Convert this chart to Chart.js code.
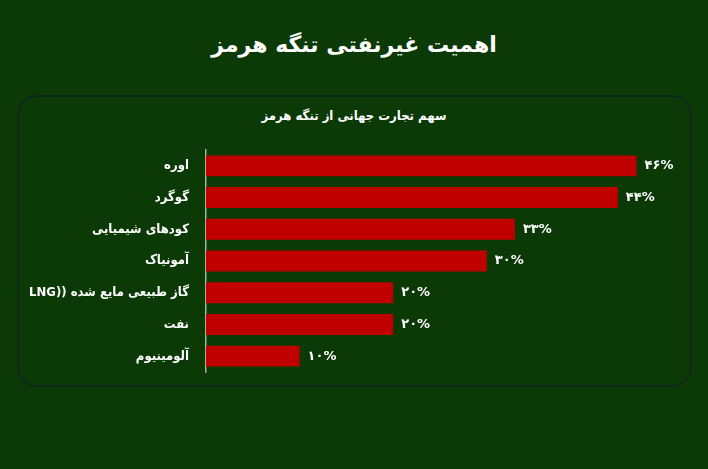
<!DOCTYPE html>
<html lang="fa">
<head>
<meta charset="utf-8">
<script src="https://cdn.jsdelivr.net/npm/chart.js@4"></script>
<style>
  html, body { margin: 0; padding: 0; }
  body { width: 708px; height: 469px; background: #0b3a07; position: relative; overflow: hidden;
         font-family: 'DejaVu Sans', 'Noto Sans', sans-serif; }
  .title { position: absolute; left: 0; top: 32px; width: 708px; text-align: center; color: #fff;
           font-weight: bold; font-size: 22px; direction: rtl; }
  .card { position: absolute; left: 17px; top: 95px; width: 671px; height: 288px;
          border: 2px solid #0a2b1c; border-radius: 20px; }
  .subtitle { position: absolute; left: 0; top: 108px; width: 708px; text-align: center; color: #fff;
              font-weight: bold; font-size: 13px; direction: rtl; font-family: 'DejaVu Sans Condensed', sans-serif; }
  #chart { position: absolute; left: 0; top: 0; }
</style>
</head>
<body>
<div class="title">اهمیت غیرنفتی تنگه هرمز</div>
<div class="card"></div>
<div class="subtitle">سهم تجارت جهانی از تنگه هرمز</div>
<canvas id="chart" dir="rtl" width="708" height="469"></canvas>
<script>
const categories = ['اوره', 'گوگرد', 'کودهای شیمیایی', 'آمونیاک', 'گاز طبیعی مایع شده ((LNG', 'نفت', 'آلومینیوم'];
const shares = [46, 44, 33, 30, 20, 20, 10];

const faDigits = '۰۱۲۳۴۵۶۷۸۹';
const toFa = (n) => String(n).replace(/\d/g, d => faDigits[d]);

// value labels at the end of each bar, drawn left-to-right so % stays after the digits
const valueLabels = {
  id: 'valueLabels',
  afterDatasetsDraw(chart){
    const ctx = chart.ctx;
    const meta = chart.getDatasetMeta(0);
    ctx.save();
    ctx.direction = 'ltr';
    ctx.font = 'bold 13px "DejaVu Sans", sans-serif';
    ctx.fillStyle = '#ffffff';
    ctx.textAlign = 'left';
    ctx.textBaseline = 'middle';
    meta.data.forEach((bar, i) => {
      ctx.fillText(toFa(shares[i]) + '%', bar.x + 8, bar.y);
    });
    ctx.restore();
  }
};

new Chart(document.getElementById('chart'), {
  type: 'bar',
  data: {
    labels: categories,
    datasets: [{
      data: shares,
      backgroundColor: '#c00000',
      borderWidth: 0,
      barPercentage: 0.66,
      categoryPercentage: 1
    }]
  },
  options: {
    indexAxis: 'y',
    responsive: false,
    animation: false,
    layout: { padding: { left: 0, top: 150, right: 34, bottom: 97 } },
    plugins: { legend: { display: false }, tooltip: { enabled: false } },
    scales: {
      x: { display: false, min: 0, max: 50 },
      y: {
        grid: { display: false },
        border: { display: true, color: '#9fb59a', width: 1.5 },
        ticks: { color: '#ffffff', padding: 9, font: { family: 'DejaVu Sans Condensed', size: 13, weight: 'bold' } },
        afterFit(scale){ scale.width = 206; }
      }
    }
  },
  plugins: [valueLabels]
});
</script>
</body>
</html>
